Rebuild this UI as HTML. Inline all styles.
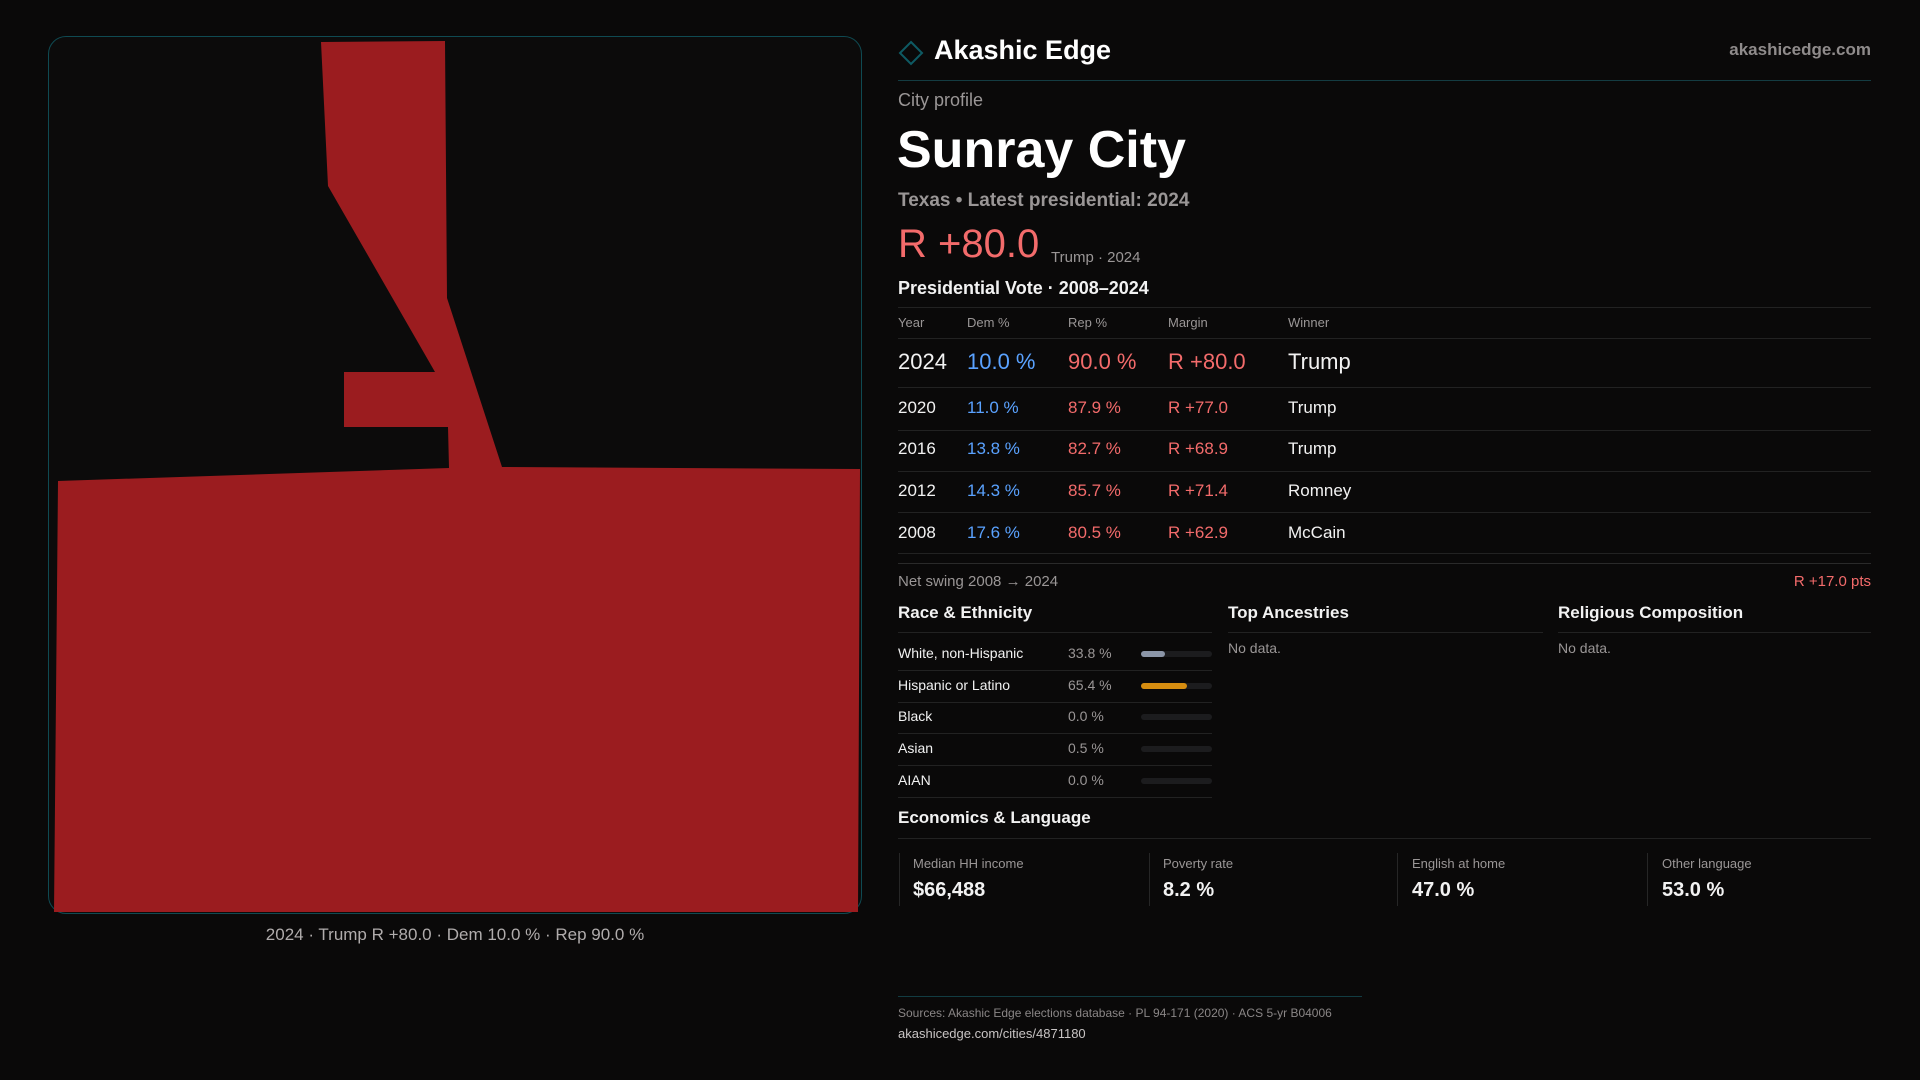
<!DOCTYPE html>
<html><head><meta charset="utf-8"><style>
*{margin:0;padding:0;box-sizing:border-box}
body{width:1920px;height:1080px;background:#0a0909;font-family:"Liberation Sans",sans-serif;color:#f2f2f2;position:relative;overflow:hidden}
.a{position:absolute;white-space:nowrap}
.panel{position:absolute;left:48px;top:36px;width:814px;height:878px;border:1.5px solid #0f4a52;border-radius:18px;background:#0c0b0b;overflow:hidden}
.g{color:#9a9696}
.hl{position:absolute;height:1px;background:#222}
.r{color:#f36b6b}.b{color:#5aa2ff}
.bar{position:absolute;height:6px;width:71px;left:1141px;background:#1c1c1e;border-radius:3px}
.bar i{position:absolute;left:0;top:0;height:6px;border-radius:3px}
.vl{position:absolute;width:1px;background:#262626;top:853px;height:53px}
</style></head><body>
<div class="panel"></div>
<svg class="a" style="left:0;top:0" width="1920" height="1080">
<polygon fill="#9b1c1f" points="321,42 445,41 447,298 502,467 860,469 858,912 54,912 58,481 449,468 448,427 344,427 344,372 435,372 328,186"/>
<polygon points="911,42 922,53 911,64 900,53" fill="none" stroke="#0e5a63" stroke-width="2"/>
</svg>
<div class="a" style="left:0;width:910px;text-align:center;top:925px;font-size:17px;color:#b0acac">2024 · Trump R +80.0 · Dem 10.0 % · Rep 90.0 %</div>

<div class="a" style="left:934px;top:35px;font-size:27px;font-weight:bold;color:#fff">Akashic Edge</div>
<div class="a g" style="right:49px;top:40px;font-size:17px;font-weight:bold;color:#8f8b8b">akashicedge.com</div>
<div class="hl" style="left:898px;width:973px;top:80px;background:#143c42"></div>
<div class="a g" style="left:898px;top:90px;font-size:18px">City profile</div>
<div class="a" style="left:897px;top:120px;font-size:52px;font-weight:bold;color:#fff">Sunray City</div>
<div class="a g" style="left:898px;top:190px;font-size:19px;font-weight:bold">Texas • Latest presidential: 2024</div>
<div class="a r" style="left:898px;top:222px;font-size:40px">R +80.0</div>
<div class="a g" style="left:1051px;top:249px;font-size:15px">Trump · 2024</div>
<div class="a" style="left:898px;top:278px;font-size:18px;font-weight:bold">Presidential Vote · 2008–2024</div>
<div class="hl" style="left:898px;width:973px;top:307px"></div>
<div class="a g" style="left:898px;top:315px;font-size:13px">Year</div>
<div class="a g" style="left:967px;top:315px;font-size:13px">Dem %</div>
<div class="a g" style="left:1068px;top:315px;font-size:13px">Rep %</div>
<div class="a g" style="left:1168px;top:315px;font-size:13px">Margin</div>
<div class="a g" style="left:1288px;top:315px;font-size:13px">Winner</div>
<div class="hl" style="left:898px;width:973px;top:338px"></div>
<div class="a" style="left:898px;top:349px;font-size:22px">2024</div>
<div class="a b" style="left:967px;top:349px;font-size:22px">10.0 %</div>
<div class="a r" style="left:1068px;top:349px;font-size:22px">90.0 %</div>
<div class="a r" style="left:1168px;top:349px;font-size:22px">R +80.0</div>
<div class="a" style="left:1288px;top:349px;font-size:22px">Trump</div>
<div class="hl" style="left:898px;width:973px;top:387px"></div>
<div class="a" style="left:898px;top:398px;font-size:17px">2020</div><div class="a b" style="left:967px;top:398px;font-size:17px">11.0 %</div><div class="a r" style="left:1068px;top:398px;font-size:17px">87.9 %</div><div class="a r" style="left:1168px;top:398px;font-size:17px">R +77.0</div><div class="a" style="left:1288px;top:398px;font-size:17px">Trump</div>
<div class="hl" style="left:898px;width:973px;top:430px"></div>
<div class="a" style="left:898px;top:439px;font-size:17px">2016</div><div class="a b" style="left:967px;top:439px;font-size:17px">13.8 %</div><div class="a r" style="left:1068px;top:439px;font-size:17px">82.7 %</div><div class="a r" style="left:1168px;top:439px;font-size:17px">R +68.9</div><div class="a" style="left:1288px;top:439px;font-size:17px">Trump</div>
<div class="hl" style="left:898px;width:973px;top:471px"></div>
<div class="a" style="left:898px;top:481px;font-size:17px">2012</div><div class="a b" style="left:967px;top:481px;font-size:17px">14.3 %</div><div class="a r" style="left:1068px;top:481px;font-size:17px">85.7 %</div><div class="a r" style="left:1168px;top:481px;font-size:17px">R +71.4</div><div class="a" style="left:1288px;top:481px;font-size:17px">Romney</div>
<div class="hl" style="left:898px;width:973px;top:512px"></div>
<div class="a" style="left:898px;top:523px;font-size:17px">2008</div><div class="a b" style="left:967px;top:523px;font-size:17px">17.6 %</div><div class="a r" style="left:1068px;top:523px;font-size:17px">80.5 %</div><div class="a r" style="left:1168px;top:523px;font-size:17px">R +62.9</div><div class="a" style="left:1288px;top:523px;font-size:17px">McCain</div>
<div class="hl" style="left:898px;width:973px;top:553px"></div>
<div class="hl" style="left:898px;width:973px;top:563px;background:#2a2a2a"></div>
<div class="a g" style="left:898px;top:573px;font-size:15px">Net swing 2008 → 2024</div>
<div class="a r" style="right:49px;top:573px;font-size:15px">R +17.0 pts</div>

<div class="a" style="left:898px;top:603px;font-size:17px;font-weight:bold">Race &amp; Ethnicity</div>
<div class="a" style="left:1228px;top:603px;font-size:17px;font-weight:bold">Top Ancestries</div>
<div class="a" style="left:1558px;top:603px;font-size:17px;font-weight:bold">Religious Composition</div>
<div class="hl" style="left:898px;width:314px;top:632px"></div>
<div class="hl" style="left:1228px;width:315px;top:632px"></div>
<div class="hl" style="left:1558px;width:313px;top:632px"></div>
<div class="a g" style="left:1228px;top:640px;font-size:14px">No data.</div>
<div class="a g" style="left:1558px;top:640px;font-size:14px">No data.</div>

<div class="a" style="left:898px;top:645px;font-size:14px">White, non-Hispanic</div><div class="a g" style="left:1068px;top:645px;font-size:14px">33.8 %</div><div class="bar" style="top:651px"><i style="width:24px;background:#8c96a8"></i></div>
<div class="hl" style="left:898px;width:314px;top:670px"></div>
<div class="a" style="left:898px;top:677px;font-size:14px">Hispanic or Latino</div><div class="a g" style="left:1068px;top:677px;font-size:14px">65.4 %</div><div class="bar" style="top:683px"><i style="width:46px;background:#d68d10"></i></div>
<div class="hl" style="left:898px;width:314px;top:702px"></div>
<div class="a" style="left:898px;top:708px;font-size:14px">Black</div><div class="a g" style="left:1068px;top:708px;font-size:14px">0.0 %</div><div class="bar" style="top:714px"></div>
<div class="hl" style="left:898px;width:314px;top:733px"></div>
<div class="a" style="left:898px;top:740px;font-size:14px">Asian</div><div class="a g" style="left:1068px;top:740px;font-size:14px">0.5 %</div><div class="bar" style="top:746px"></div>
<div class="hl" style="left:898px;width:314px;top:765px"></div>
<div class="a" style="left:898px;top:772px;font-size:14px">AIAN</div><div class="a g" style="left:1068px;top:772px;font-size:14px">0.0 %</div><div class="bar" style="top:778px"></div>
<div class="hl" style="left:898px;width:314px;top:797px"></div>

<div class="a" style="left:898px;top:808px;font-size:17px;font-weight:bold">Economics &amp; Language</div>
<div class="hl" style="left:898px;width:973px;top:838px"></div>
<div class="vl" style="left:899px"></div><div class="vl" style="left:1149px"></div><div class="vl" style="left:1397px"></div><div class="vl" style="left:1647px"></div>
<div class="a g" style="left:913px;top:856px;font-size:13px">Median HH income</div><div class="a" style="left:913px;top:879px;font-size:20px;font-weight:bold">$66,488</div>
<div class="a g" style="left:1163px;top:856px;font-size:13px">Poverty rate</div><div class="a" style="left:1163px;top:879px;font-size:20px;font-weight:bold">8.2 %</div>
<div class="a g" style="left:1412px;top:856px;font-size:13px">English at home</div><div class="a" style="left:1412px;top:879px;font-size:20px;font-weight:bold">47.0 %</div>
<div class="a g" style="left:1662px;top:856px;font-size:13px">Other language</div><div class="a" style="left:1662px;top:879px;font-size:20px;font-weight:bold">53.0 %</div>

<div class="hl" style="left:898px;width:464px;top:996px;background:#123c42"></div>
<div class="a g" style="left:898px;top:1006px;font-size:12px;color:#8a8686">Sources: Akashic Edge elections database · PL 94-171 (2020) · ACS 5-yr B04006</div>
<div class="a" style="left:898px;top:1026px;font-size:13px;color:#c8c4c4">akashicedge.com/cities/4871180</div>
</body></html>
